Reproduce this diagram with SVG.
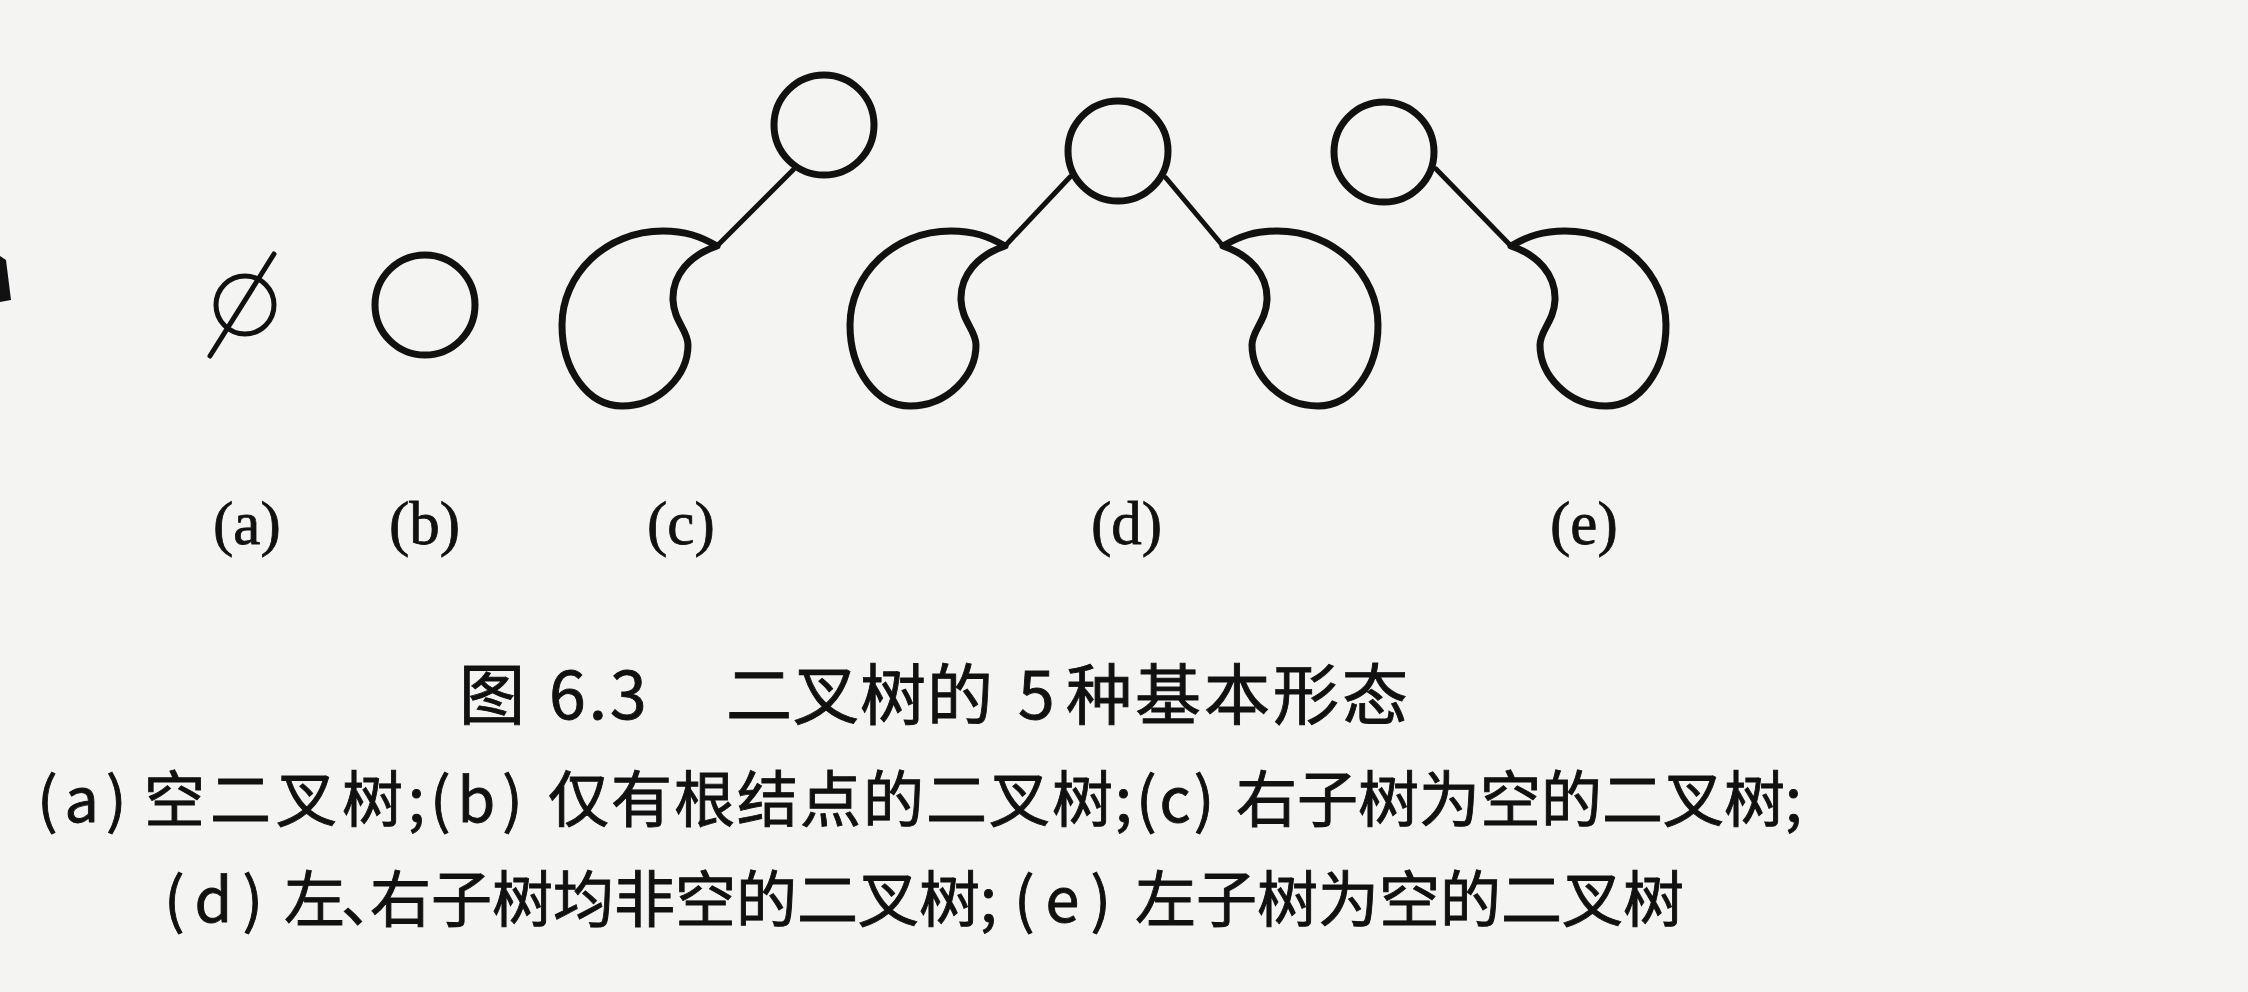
<svg xmlns="http://www.w3.org/2000/svg" width="2248" height="992" viewBox="0 0 2248 992">
<defs>
<style>
.bg{fill:#f4f4f3}
.ink{fill:none;stroke:#111;stroke-width:7;stroke-linejoin:round}
.thin{fill:none;stroke:#111;stroke-width:5;stroke-linecap:round}
.edge{stroke:#111;stroke-width:5;stroke-linecap:round}
.lbl{font-family:"Liberation Serif","Times New Roman",serif;font-size:61px;fill:#111;stroke:#111;stroke-width:0.8}
.cjk{font-family:"Noto Sans CJK SC","Noto Sans",sans-serif;font-size:61px;fill:#111;stroke:#111;stroke-width:0.9}
.cap{font-family:"Noto Sans CJK SC","Noto Sans",sans-serif;font-size:66px;fill:#111;stroke:#111;stroke-width:0.9}
</style>
<path id="kidney" d="M717 246 C700 236 685 231 663 231 C605 231 562 275 562 325 C562 370 588 406 622 406 C660 406 688 375 688 345 C688 330 674 322 673 300 C672 275 690 255 717 246 Z"/>
</defs>
<rect class="bg" x="0" y="0" width="2248" height="992"/>
<polygon points="0,256 6,260 11,300 0,302" fill="#111"/>

<g id="node-a">
<circle class="thin" cx="245" cy="305" r="29"/>
<line class="thin" x1="274" y1="254" x2="210" y2="356"/>
</g>
<g id="node-b">
<circle class="ink" cx="425" cy="305" r="50"/>
</g>
<g id="node-c-root">
<circle class="ink" cx="824" cy="125" r="50"/>
</g>
<g id="node-c-left">
<use href="#kidney" class="ink"/>
</g>
<g id="node-d-root">
<circle class="ink" cx="1118" cy="151" r="50"/>
</g>
<g id="node-d-left">
<use href="#kidney" class="ink" transform="translate(288,0)"/>
</g>
<g id="node-d-right">
<use href="#kidney" class="ink" transform="translate(1940,0) scale(-1,1)"/>
</g>
<g id="node-e-root">
<circle class="ink" cx="1384" cy="152" r="50"/>
</g>
<g id="node-e-right">
<use href="#kidney" class="ink" transform="translate(2228,0) scale(-1,1)"/>
</g>

<g id="connectors">
<line class="edge" x1="717" y1="246" x2="793" y2="170"/>
<line class="edge" x1="1005" y1="246" x2="1070" y2="177"/>
<line class="edge" x1="1223" y1="246" x2="1166" y2="178"/>
<line class="edge" x1="1511" y1="246" x2="1436" y2="169"/>
</g>

<g id="labels">
<text class="lbl" x="213" y="544">(a)</text>
<text class="lbl" x="389" y="544">(b)</text>
<text class="lbl" x="647" y="544">(c)</text>
<text class="lbl" x="1091" y="544">(d)</text>
<text class="lbl" x="1550" y="544">(e)</text>
</g>

<g id="caption">
<text class="cap" y="719"><tspan x="459">图</tspan><tspan x="549" letter-spacing="3">6.3</tspan><tspan x="726" letter-spacing="1">二叉树的</tspan><tspan x="1018">5</tspan><tspan x="1066" letter-spacing="3">种基本形态</tspan></text>
<text class="cjk" y="822"><tspan x="37" letter-spacing="7">(a)</tspan><tspan x="144" letter-spacing="5">空二叉树;</tspan><tspan x="430" letter-spacing="7">(b)</tspan><tspan x="548" letter-spacing="2">仅有根结点的二叉树;</tspan><tspan x="1136" letter-spacing="3">(c)</tspan><tspan x="1236">右子树为空的二叉树;</tspan></text>
<text class="cjk" y="922"><tspan x="164" letter-spacing="10">(d)</tspan><tspan x="284" dx="0 -4 -32">左、右子树均非空的二叉树;</tspan><tspan x="1014" letter-spacing="11">(e)</tspan><tspan x="1135">左子树为空的二叉树</tspan></text>
</g>
</svg>
